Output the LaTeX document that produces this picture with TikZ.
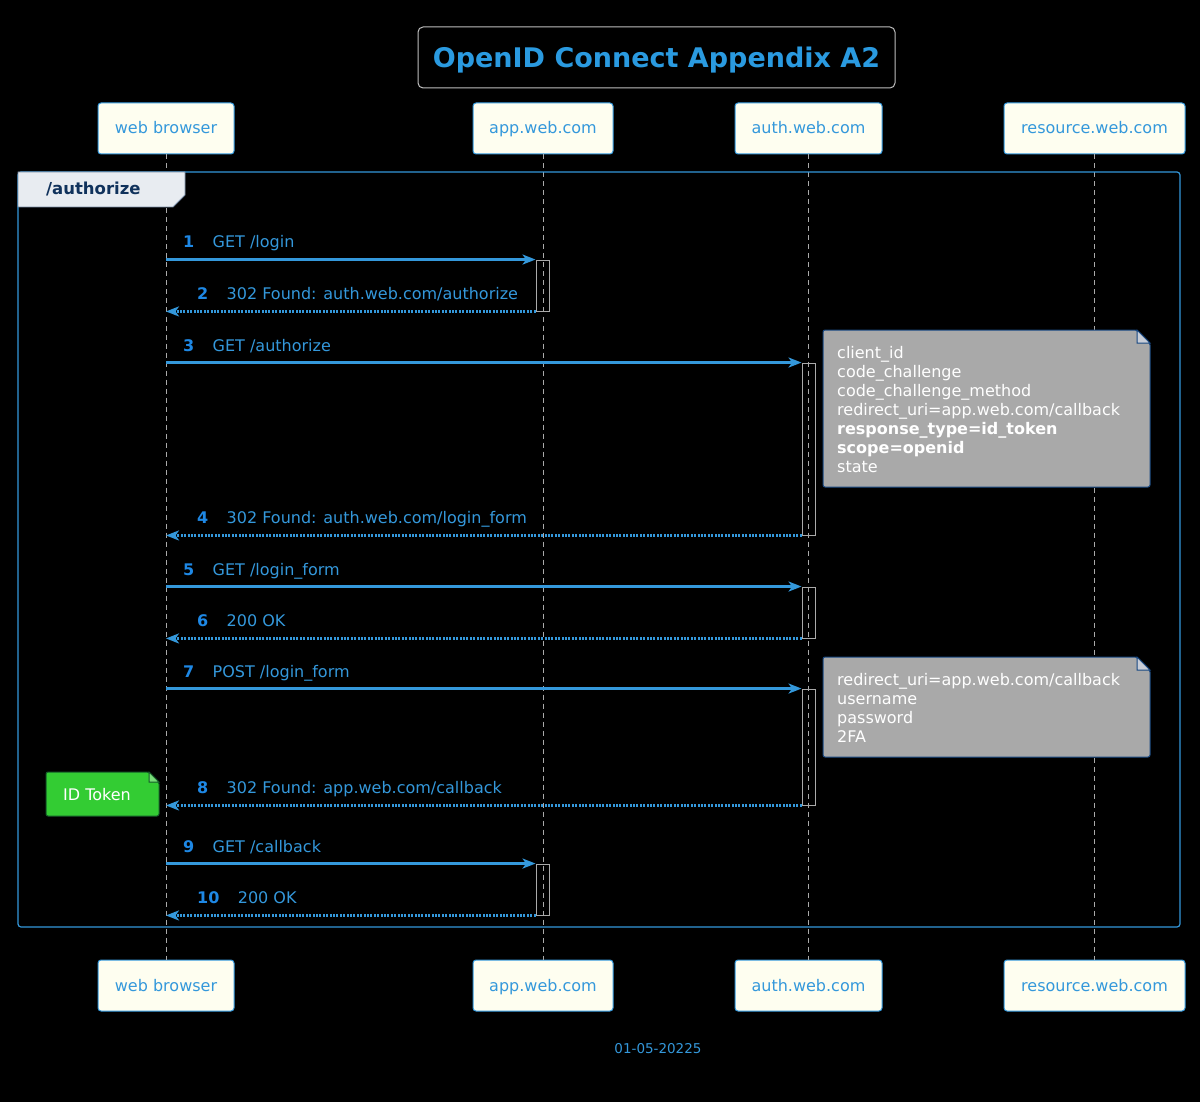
\documentclass[tikz,border=0pt]{standalone}
\usepackage{fontspec}
\setmainfont{DejaVu Sans}
\usetikzlibrary{arrows.meta}
\definecolor{umlblue}{RGB}{52,152,219}
\definecolor{titleblue}{RGB}{42,154,224}
\definecolor{numblue}{RGB}{30,136,229}
\definecolor{lifegray}{RGB}{170,170,170}
\definecolor{boxivory}{RGB}{254,254,240}
\definecolor{notegray}{RGB}{169,169,169}
\definecolor{noteedge}{RGB}{24,72,130}
\definecolor{foldgray}{RGB}{200,205,215}
\definecolor{tabgray}{RGB}{232,236,241}
\definecolor{tabtext}{RGB}{16,50,92}
\definecolor{tokengreen}{RGB}{51,204,51}
\definecolor{foldgreen}{RGB}{120,220,120}

\tikzset{
  actor/.style={draw=umlblue, fill=boxivory, rounded corners=3pt, line width=1pt,
    minimum width=#1, minimum height=51pt, inner sep=0pt, text=umlblue,
    font=\fontsize{16}{19}\selectfont, text height=11pt, text depth=0pt},
  lifeline/.style={lifegray, line width=1pt, dash pattern=on 5pt off 4pt},
  act/.style={draw=lifegray, line width=0.9pt, minimum width=13pt, minimum height=#1, inner sep=0pt},
  call/.style={umlblue, line width=3pt, -{Stealth[length=13pt,width=10pt,inset=3.5pt]}},
  reply/.style={call, dash pattern=on 2pt off 1.4pt},
  num/.style={anchor=base west, inner sep=0pt, text=numblue, font=\fontsize{16}{19}\selectfont\bfseries},
  msg/.style={anchor=base west, inner sep=0pt, text=umlblue, font=\fontsize{16}{19}\selectfont},
  notetext/.style={anchor=north west, inner sep=0pt, align=left, text=white, font=\fontsize{16}{19}\selectfont}
}

\begin{document}
\begin{tikzpicture}[x=1pt,y=-1pt]
% Background
\fill[black] (0,0) rectangle (1200,1102);
\useasboundingbox (0,0) rectangle (1200,1102);

% Title
\node[draw={rgb,255:red,190;green,190;blue,190}, fill=black, rounded corners=5pt, line width=1pt,
  minimum width=477pt, minimum height=61pt, inner sep=0pt, text=titleblue,
  font=\fontsize{27}{32}\selectfont\bfseries, text height=20pt, text depth=0pt]
  (title) at (656.5,57.5) {OpenID Connect Appendix A2};

% Participants
\node[actor=136pt] (wb) at (166,128.5) {web browser};
\node[actor=140pt] (app) at (543,128.5) {app.web.com};
\node[actor=147pt] (auth) at (808.5,128.5) {auth.web.com};
\node[actor=181pt] (res) at (1094.5,128.5) {resource.web.com};
\node[actor=136pt] (wbb) at (166,985.5) {web browser};
\node[actor=140pt] (appb) at (543,985.5) {app.web.com};
\node[actor=147pt] (authb) at (808.5,985.5) {auth.web.com};
\node[actor=181pt] (resb) at (1094.5,985.5) {resource.web.com};

% Lifelines
\draw[lifeline] (wb.south) -- (wbb.north);
\draw[lifeline] (app.south) -- (appb.north);
\draw[lifeline] (auth.south) -- (authb.north);
\draw[lifeline] (res.south) -- (resb.north);

% Group frame
\draw[umlblue, line width=1.2pt, rounded corners=3pt] (18,172) rectangle (1180,927);
\draw[fill=tabgray, draw={rgb,255:red,120;green,140;blue,165}, line width=0.8pt]
  (18,172) -- (185,172) -- (185,195) -- (173,207) -- (18,207) -- cycle;
\node[anchor=base west, inner sep=0pt, text=tabtext, font=\fontsize{16.5}{19}\selectfont\bfseries]
  (grp) at (46,194.5) {/authorize};

% Activations
\node[act=51pt] (a1) at (542.5,285.5) {};
\node[act=172pt] (a2) at (808.5,449) {};
\node[act=51pt] (a3) at (808.5,612.5) {};
\node[act=116pt] (a4) at (808.5,747) {};
\node[act=51pt] (a5) at (542.5,889.5) {};

% Messages
\draw[call] (wb |- a1.north west) -- (a1.north west);
\node[num] (n1) at (183,248) {1};
\node[msg] (t1) at ([xshift=18pt]n1.base east) {GET /login};
\draw[reply] (a1.south west) -- (wb |- a1.south west);
\node[num] (n2) at (197,299) {2};
\node[msg] (t2) at ([xshift=18pt]n2.base east) {302 Found: auth.web.com/authorize};
\draw[call] (wb |- a2.north west) -- (a2.north west);
\node[num] (n3) at (183,351) {3};
\node[msg] (t3) at ([xshift=18pt]n3.base east) {GET /authorize};
\draw[reply] (a2.south west) -- (wb |- a2.south west);
\node[num] (n4) at (197,523) {4};
\node[msg] (t4) at ([xshift=18pt]n4.base east) {302 Found: auth.web.com/login\_form};
\draw[call] (wb |- a3.north west) -- (a3.north west);
\node[num] (n5) at (183,575) {5};
\node[msg] (t5) at ([xshift=18pt]n5.base east) {GET /login\_form};
\draw[reply] (a3.south west) -- (wb |- a3.south west);
\node[num] (n6) at (197,626) {6};
\node[msg] (t6) at ([xshift=18pt]n6.base east) {200 OK};
\draw[call] (wb |- a4.north west) -- (a4.north west);
\node[num] (n7) at (183,677) {7};
\node[msg] (t7) at ([xshift=18pt]n7.base east) {POST /login\_form};
\draw[reply] (a4.south west) -- (wb |- a4.south west);
\node[num] (n8) at (197,793) {8};
\node[msg] (t8) at ([xshift=18pt]n8.base east) {302 Found: app.web.com/callback};
\draw[call] (wb |- a5.north west) -- (a5.north west);
\node[num] (n9) at (183,852) {9};
\node[msg] (t9) at ([xshift=18pt]n9.base east) {GET /callback};
\draw[reply] (a5.south west) -- (wb |- a5.south west);
\node[num] (n10) at (197,903) {10};
\node[msg] (t10) at ([xshift=18pt]n10.base east) {200 OK};

% Notes
\draw[fill=notegray, draw=noteedge, line width=1pt, rounded corners=2pt]
  (823,330) -- (1137,330) -- (1150,343) -- (1150,487) -- (823,487) -- cycle;
\draw[fill=foldgray, draw=noteedge, line width=1pt] (1137,330) -- (1137,343) -- (1150,343) -- cycle;
\node[notetext] (note1) at (837,346) {client\_id\\code\_challenge\\code\_challenge\_method\\redirect\_uri=app.web.com/callback\\\textbf{response\_type=id\_token}\\\textbf{scope=openid}\\state};
\draw[fill=notegray, draw=noteedge, line width=1pt, rounded corners=2pt]
  (823,657) -- (1137,657) -- (1150,670) -- (1150,757) -- (823,757) -- cycle;
\draw[fill=foldgray, draw=noteedge, line width=1pt] (1137,657) -- (1137,670) -- (1150,670) -- cycle;
\node[notetext] (note2) at (837,673) {redirect\_uri=app.web.com/callback\\username\\password\\2FA};
\draw[fill=tokengreen, draw={rgb,255:red,20;green,90;blue,40}, line width=1pt, rounded corners=2pt]
  (46,772) -- (149,772) -- (159,782) -- (159,816) -- (46,816) -- cycle;
\draw[fill=foldgreen, draw={rgb,255:red,20;green,90;blue,40}, line width=1pt] (149,772) -- (149,782) -- (159,782) -- cycle;
\node[inner sep=0pt, text=white, font=\fontsize{16}{19}\selectfont, text height=11pt, text depth=0pt]
  (token) at (97,794.5) {ID Token};

% Footer
\node[anchor=base, inner sep=0pt, text=umlblue, font=\fontsize{13.5}{16}\selectfont] (date) at (658,1053) {01-05-20225};
\end{tikzpicture}
\end{document}
